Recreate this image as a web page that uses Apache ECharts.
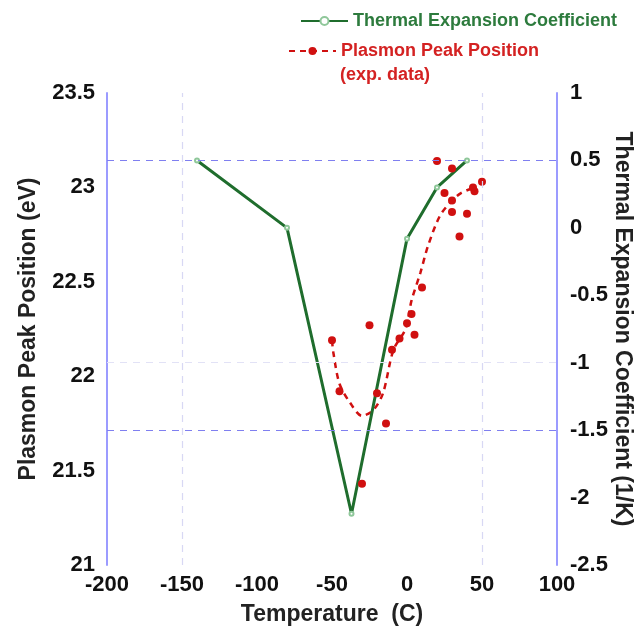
<!DOCTYPE html>
<html>
<head>
<meta charset="utf-8">
<script src="https://cdn.jsdelivr.net/npm/echarts@6/dist/echarts.min.js"></script>
<style>
html,body{margin:0;padding:0;background:#fff;}
#chart{width:639px;height:630px;}
</style>
</head>
<body>
<div id="chart"></div>
<script>
// Thermal expansion coefficient (right axis)
const tecTemp  = [-140, -80, -37, 0, 20, 40];
const tecValue = [0.5, 0.0, -2.12, -0.08, 0.3, 0.5];

// Plasmon peak position fit curve (left axis)
const fitTemp = [-50, -49, -45, -38, -30, -22.5, -16, -9, -1, 3, 9, 14, 22, 30, 36, 45];
const fitPeak = [22.19, 22.12, 21.96, 21.86, 21.79, 21.82, 21.91, 22.14, 22.25, 22.40, 22.55, 22.69, 22.85, 22.93, 22.97, 23.0];

// Plasmon peak position experimental points (left axis)
const expTemp = [-50, -25, -45, -14, -30, -20, -10, -5, 5, 0, 3, 10, 20, 30, 25, 30, 30, 40, 35, 45, 44, 50];
const expPeak = [22.19, 22.27, 21.92, 21.75, 21.43, 21.91, 22.14, 22.20, 22.22, 22.28, 22.33, 22.47, 23.14, 23.10, 22.97, 22.93, 22.87, 22.86, 22.74, 22.98, 23.0, 23.03];

// Axis ranges
const xRange = {min: -200, max: 100, interval: 50};
const yLeftRange = {min: 21, max: 23.5, interval: 0.5};
const yRightRange = {min: -2.5, max: 1, interval: 0.5};

// Grid lines
const hGridStrong = [0.5, -1.5];
const hGridFaint = [-1];
const vGrid = [-150, 50];

const FONT = 'Liberation Sans';
const axisBlue = '#9b9bff';
const green = '#1f6d2d';
const red = '#d01010';

const zip = (a, b) => a.map((v, i) => [v, b[i]]);

const chart = echarts.init(document.getElementById('chart'));
chart.setOption({
  animation: false,
  backgroundColor: '#fff',
  grid: {left: 107, right: 82, top: 93, bottom: 65, containLabel: false, outerBoundsMode: 'none'},
  legend: [
    {
      left: 300, top: 12, itemWidth: 47, itemHeight: 10, padding: 0,
      data: ['Thermal Expansion Coefficient'],
      textStyle: {color: '#2d7b3d', fontWeight: 'bold', fontSize: 18, fontFamily: FONT}
    },
    {
      left: 288, top: 42, itemWidth: 47, itemHeight: 10, padding: 0,
      data: ['Plasmon Peak Position'],
      textStyle: {color: '#d42222', fontWeight: 'bold', fontSize: 18, fontFamily: FONT}
    }
  ],
  graphic: [
    {type: 'text', left: 340, top: 66,
     style: {text: '(exp. data)', fill: '#d42222', font: 'bold 18px "Liberation Sans"'}}
  ],
  xAxis: {
    type: 'value', min: xRange.min, max: xRange.max, interval: xRange.interval,
    name: 'Temperature  (C)', nameLocation: 'middle', nameGap: 38, nameMoveOverlap: false,
    nameTextStyle: {fontSize: 23, fontWeight: 'bold', color: '#222', fontFamily: FONT},
    axisLine: {show: false}, axisTick: {show: false}, splitLine: {show: false},
    axisLabel: {fontSize: 22, fontWeight: 'bold', color: '#111', fontFamily: FONT, margin: 9}
  },
  yAxis: [
    {
      type: 'value', min: yLeftRange.min, max: yLeftRange.max, interval: yLeftRange.interval,
      position: 'left',
      name: 'Plasmon Peak Position (eV)', nameLocation: 'middle', nameGap: 67, nameRotate: 90,
      nameMoveOverlap: false,
      nameTextStyle: {fontSize: 23, fontWeight: 'bold', color: '#222', fontFamily: FONT},
      axisLine: {show: true, onZero: false, lineStyle: {color: axisBlue, width: 2}},
      axisTick: {show: false}, splitLine: {show: false},
      axisLabel: {fontSize: 22, fontWeight: 'bold', color: '#111', fontFamily: FONT, margin: 12}
    },
    {
      type: 'value', min: yRightRange.min, max: yRightRange.max, interval: yRightRange.interval,
      position: 'right',
      name: 'Thermal Expansion Coefficient (1/K)', nameLocation: 'middle', nameGap: 54, nameRotate: -90,
      nameMoveOverlap: false,
      nameTextStyle: {fontSize: 23, fontWeight: 'bold', color: '#222', fontFamily: FONT},
      axisLine: {show: true, onZero: false, lineStyle: {color: axisBlue, width: 2}},
      axisTick: {show: false}, splitLine: {show: false},
      axisLabel: {fontSize: 22, fontWeight: 'bold', color: '#111', fontFamily: FONT, margin: 13}
    }
  ],
  series: [
    {
      name: 'grid', type: 'line', yAxisIndex: 1, data: [], z: 1, silent: true,
      markLine: {
        silent: true, symbol: 'none', label: {show: false}, animation: false,
        data: [
          ...hGridStrong.map(v => ({yAxis: v, lineStyle: {color: '#7f7ff0', type: [7, 6], width: 1.2}})),
          ...hGridFaint.map(v => ({yAxis: v, lineStyle: {color: '#e2e2f6', type: [7, 6], width: 1.2}})),
          ...vGrid.map(v => ({xAxis: v, lineStyle: {color: '#d8d8f4', type: [7, 6], width: 1.2}}))
        ]
      }
    },
    {
      name: 'Thermal Expansion Coefficient', type: 'line', yAxisIndex: 1, z: 3,
      data: zip(tecTemp, tecValue),
      symbol: 'emptyCircle', symbolSize: 4, showSymbol: true,
      lineStyle: {color: green, width: 3},
      itemStyle: {color: '#8fc79a', borderColor: '#8fc79a', borderWidth: 1}
    },
    {
      name: 'Plasmon Peak Position', type: 'line', yAxisIndex: 0, z: 2,
      data: zip(fitTemp, fitPeak), smooth: 0.3,
      symbol: 'circle', symbolSize: 8, showSymbol: false,
      lineStyle: {color: red, width: 2.5, type: [6, 5]},
      itemStyle: {color: red}
    },
    {
      name: 'exp', type: 'scatter', yAxisIndex: 0, z: 4,
      data: zip(expTemp, expPeak),
      symbol: 'circle', symbolSize: 8,
      itemStyle: {color: red, opacity: 1}
    }
  ]
});
</script>
</body>
</html>
